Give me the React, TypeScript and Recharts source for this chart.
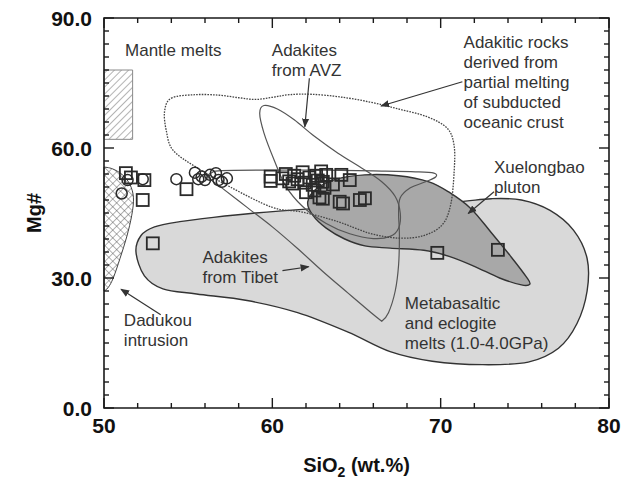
import React from 'react';
import { ScatterChart, Scatter, XAxis, YAxis } from 'recharts';

type P = { x: number; y: number; c?: boolean };

const xTickValues = [50, 52, 54, 56, 58, 60, 62, 64, 66, 68, 70, 72, 74, 76, 78, 80];
const xMajorTicks = [50, 60, 70, 80];
const yTickValues = [0, 3, 6, 9, 12, 15, 18, 21, 24, 27, 30, 33, 36, 39, 42, 45, 48, 51, 54, 57, 60, 63, 66, 69, 72, 75, 78, 81, 84, 87, 90];
const yMajorTicks = [0, 30, 60, 90];

const circles: P[] = [
  { x: 51.05, y: 49.5 }, { x: 51.4, y: 52.6 }, { x: 52.3, y: 52.8 }, { x: 54.3, y: 52.8 },
  { x: 55.4, y: 54.3 }, { x: 55.6, y: 52.8 }, { x: 55.8, y: 53.4 }, { x: 56.0, y: 52.6 },
  { x: 56.3, y: 53.8 }, { x: 56.65, y: 54.2 }, { x: 56.8, y: 52.6 }, { x: 57.0, y: 52.2 },
  { x: 57.3, y: 53.0 },
];

const squares: P[] = [
  { x: 51.3, y: 54.2 }, { x: 51.6, y: 53.2 }, { x: 52.4, y: 52.6 }, { x: 52.3, y: 48.0 },
  { x: 54.9, y: 50.5 }, { x: 52.9, y: 38.0 }, { x: 59.9, y: 53.4 }, { x: 59.9, y: 52.4 },
  { x: 60.6, y: 53.0 }, { x: 60.8, y: 54.0 }, { x: 61.0, y: 52.3 }, { x: 61.2, y: 51.8 },
  { x: 61.3, y: 53.6 }, { x: 61.5, y: 52.8 }, { x: 61.8, y: 54.4 }, { x: 61.9, y: 52.0 },
  { x: 62.0, y: 49.8 }, { x: 62.2, y: 53.2 }, { x: 62.4, y: 51.5 }, { x: 62.5, y: 50.2 },
  { x: 62.6, y: 53.6 }, { x: 62.7, y: 52.5 }, { x: 62.8, y: 48.6 }, { x: 62.9, y: 54.6 },
  { x: 63.0, y: 52.2 }, { x: 63.0, y: 48.3 }, { x: 63.1, y: 50.8 }, { x: 63.2, y: 53.8 },
  { x: 63.6, y: 51.6 }, { x: 64.1, y: 53.8 }, { x: 64.6, y: 52.6 }, { x: 64.0, y: 47.6 },
  { x: 64.2, y: 47.2 }, { x: 65.2, y: 48.0 }, { x: 65.5, y: 48.4 }, { x: 69.8, y: 35.8 },
  { x: 73.4, y: 36.5 },
];

const mantleMelts: P[] = [
  { x: 50, y: 62 }, { x: 51.7, y: 62 }, { x: 51.7, y: 78 }, { x: 50, y: 78 },
];

const dadukou: P[] = [
  { x: 50, y: 55.6, c: true }, { x: 50.5, y: 55.2 }, { x: 51.1, y: 53.8 }, { x: 51.55, y: 51.5 },
  { x: 51.75, y: 48.5 }, { x: 51.65, y: 44.5 }, { x: 51.35, y: 39.5 }, { x: 50.95, y: 34.5 },
  { x: 50.55, y: 30.0 }, { x: 50.25, y: 27.8 }, { x: 50, y: 27.0, c: true }, { x: 50, y: 41, c: true },
];

const metabasaltic: P[] = [
  { x: 51.9, y: 36.0 }, { x: 52.2, y: 39.8 }, { x: 53.0, y: 41.8 }, { x: 54.5, y: 43.0 },
  { x: 56.5, y: 44.0 }, { x: 59.0, y: 45.0 }, { x: 62.0, y: 45.9 }, { x: 65.0, y: 46.6 },
  { x: 68.0, y: 47.2 }, { x: 71.0, y: 47.6 }, { x: 73.0, y: 48.3 }, { x: 74.8, y: 48.0 },
  { x: 76.5, y: 45.6 }, { x: 77.9, y: 41.0 }, { x: 78.7, y: 34.5 }, { x: 78.7, y: 27.0 },
  { x: 78.1, y: 19.5 }, { x: 77.0, y: 13.8 }, { x: 75.2, y: 10.6 }, { x: 72.5, y: 10.0 },
  { x: 69.5, y: 10.8 }, { x: 67.0, y: 13.0 }, { x: 64.5, y: 17.5 }, { x: 61.5, y: 22.0 },
  { x: 58.5, y: 24.8 }, { x: 55.5, y: 26.3 }, { x: 53.5, y: 27.5 }, { x: 52.4, y: 30.5 },
];

const xuelongbao: P[] = [
  { x: 62.1, y: 47.5 }, { x: 62.6, y: 50.5 }, { x: 63.8, y: 52.8 }, { x: 65.5, y: 53.8 },
  { x: 67.5, y: 53.6 }, { x: 69.3, y: 52.2 }, { x: 70.5, y: 49.8 }, { x: 71.8, y: 46.0 },
  { x: 73.0, y: 40.5 }, { x: 74.2, y: 34.8 }, { x: 75.1, y: 30.2 }, { x: 75.3, y: 28.6 },
  { x: 74.8, y: 28.4 }, { x: 73.5, y: 30.0 }, { x: 72.0, y: 32.7 }, { x: 70.5, y: 35.0 },
  { x: 69.0, y: 36.4 }, { x: 67.0, y: 36.9 }, { x: 65.5, y: 37.4 }, { x: 64.3, y: 39.0 },
  { x: 63.2, y: 41.5 }, { x: 62.4, y: 44.5 },
];

const tibet: P[] = [
  { x: 57.0, y: 54.8 }, { x: 60.0, y: 54.9 }, { x: 63.0, y: 54.9 }, { x: 66.0, y: 54.7 },
  { x: 68.5, y: 54.5 }, { x: 69.6, y: 54.2 }, { x: 69.7, y: 53.3 }, { x: 69.1, y: 52.2 },
  { x: 68.2, y: 50.8 }, { x: 67.6, y: 48.5 }, { x: 67.5, y: 45.0 }, { x: 67.55, y: 40.0 },
  { x: 67.5, y: 33.0 }, { x: 67.3, y: 27.0 }, { x: 66.9, y: 22.0 }, { x: 66.5, y: 20.0, c: true },
  { x: 65.8, y: 22.2 }, { x: 64.5, y: 26.5 }, { x: 63.0, y: 31.5 }, { x: 61.5, y: 36.8 },
  { x: 60.0, y: 41.8 }, { x: 58.5, y: 46.3 }, { x: 57.0, y: 50.8 }, { x: 56.2, y: 53.2 },
  { x: 56.4, y: 54.3 },
];

const avz: P[] = [
  { x: 59.5, y: 69.8 }, { x: 60.3, y: 69.0 }, { x: 61.3, y: 66.5 }, { x: 62.5, y: 62.7 },
  { x: 63.9, y: 58.8 }, { x: 65.3, y: 55.4 }, { x: 66.5, y: 52.2 }, { x: 67.3, y: 48.8 },
  { x: 67.6, y: 45.0 }, { x: 67.5, y: 41.5 }, { x: 67.0, y: 39.6 }, { x: 66.0, y: 39.1 },
  { x: 64.6, y: 40.2 }, { x: 63.2, y: 42.6 }, { x: 61.8, y: 46.5 }, { x: 60.8, y: 51.2 },
  { x: 60.1, y: 57.3 }, { x: 59.5, y: 63.5 }, { x: 59.25, y: 68.0 },
];

const adakitic: P[] = [
  { x: 54.0, y: 71.5 }, { x: 55.4, y: 72.3 }, { x: 56.8, y: 72.2 }, { x: 58.0, y: 71.6 },
  { x: 59.0, y: 71.2 }, { x: 60.0, y: 71.7 }, { x: 61.0, y: 72.3 }, { x: 62.3, y: 72.4 },
  { x: 64.0, y: 71.8 }, { x: 65.8, y: 70.6 }, { x: 67.5, y: 69.0 }, { x: 69.2, y: 67.2 },
  { x: 70.4, y: 64.5 }, { x: 70.8, y: 60.5 }, { x: 70.8, y: 54.5 }, { x: 70.6, y: 47.0 },
  { x: 70.1, y: 42.3 }, { x: 69.0, y: 39.8 }, { x: 67.5, y: 39.2 }, { x: 65.8, y: 40.3 },
  { x: 63.9, y: 43.0 }, { x: 61.8, y: 45.2 }, { x: 60.0, y: 46.3 }, { x: 57.5, y: 51.0 },
  { x: 55.5, y: 55.5 }, { x: 54.1, y: 59.5 }, { x: 53.7, y: 64.0 }, { x: 53.6, y: 68.5 },
];

const arrowAdakitic: P[] = [{ x: 71.29, y: 75.3 }, { x: 66.46, y: 69.7 }];
const arrowAvz: P[] = [{ x: 62.2, y: 76.1 }, { x: 61.93, y: 64.9 }];
const arrowXuelongbao: P[] = [{ x: 73.17, y: 49.9 }, { x: 71.64, y: 44.9 }];
const arrowTibet: P[] = [{ x: 60.6, y: 31.7 }, { x: 62.16, y: 32.6 }];
const arrowDadukou: P[] = [{ x: 53.37, y: 21.5 }, { x: 51.01, y: 27.4 }];

const annotations = [
  { x: 51.25, y: 82.6, lines: ['Mantle melts'] },
  { x: 59.97, y: 82.6, lines: ['Adakites', 'from AVZ'] },
  { x: 71.36, y: 84.5, lines: ['Adakitic rocks', 'derived from', 'partial melting', 'of subducted', 'oceanic crust'] },
  { x: 73.17, y: 55.7, lines: ['Xuelongbao', 'pluton'] },
  { x: 55.85, y: 34.9, lines: ['Adakites', 'from Tibet'] },
  { x: 67.87, y: 24.2, lines: ['Metabasaltic', 'and eclogite', 'melts (1.0-4.0GPa)'] },
  { x: 51.18, y: 20.3, lines: ['Dadukou', 'intrusion'] },
];

// axis frame corners and tick marks, in data space
const frame: P[] = [{ x: 50, y: 0 }, { x: 80, y: 0 }, { x: 80, y: 90 }, { x: 50, y: 90 }];
const bottomTicks = xTickValues.map((v) => ({ x: v, y: 0 }));
const topTicks = xTickValues.map((v) => ({ x: v, y: 90 }));
const leftTicks = yTickValues.map((v) => ({ x: 50, y: v }));
const rightTicks = yTickValues.map((v) => ({ x: 80, y: v }));

const FONT = '"Liberation Sans", Arial, Helvetica, sans-serif';
const AXIS = '#1a1a1a';

function buildPath(pts: { x: number; y: number }[], src: P[], smooth: boolean, closed: boolean) {
  const n = pts.length;
  if (!n) return '';
  if (!smooth) return 'M' + pts.map((p) => `${p.x},${p.y}`).join('L') + (closed ? 'Z' : '');
  const get = (i: number) => (closed ? pts[(i + n) % n] : pts[Math.min(n - 1, Math.max(0, i))]);
  const isC = (i: number) => !!(src[(i + n) % n] && src[(i + n) % n].c);
  let d = `M${pts[0].x},${pts[0].y}`;
  const segs = closed ? n : n - 1;
  const k = 1 / 6;
  for (let i = 0; i < segs; i++) {
    const p0 = get(i - 1), p1 = get(i), p2 = get(i + 1), p3 = get(i + 2);
    const c1 = isC(i) ? p1 : { x: p1.x + (p2.x - p0.x) * k, y: p1.y + (p2.y - p0.y) * k };
    const c2 = isC(i + 1) ? p2 : { x: p2.x - (p3.x - p1.x) * k, y: p2.y - (p3.y - p1.y) * k };
    d += `C${c1.x},${c1.y} ${c2.x},${c2.y} ${p2.x},${p2.y}`;
  }
  return d + (closed ? 'Z' : '');
}

const noShape = () => <g />;

const region = (src: P[], style: React.SVGProps<SVGPathElement>, smooth = true) => (props: any) => (
  <path d={buildPath(props.points || [], src, smooth, true)} {...style} />
);

const mantleLine = (props: any) => (
  <g>
    <defs>
      <pattern id="hatchDiag" patternUnits="userSpaceOnUse" width="5" height="5" patternTransform="rotate(45)">
        <line x1="0" y1="0" x2="0" y2="5" stroke="#6a6a6a" strokeWidth="1" />
      </pattern>
      <pattern id="hatchCross" patternUnits="userSpaceOnUse" width="5.5" height="5.5" patternTransform="rotate(45)">
        <line x1="0" y1="0" x2="0" y2="5.5" stroke="#555" strokeWidth="0.9" />
        <line x1="0" y1="0" x2="5.5" y2="0" stroke="#555" strokeWidth="0.9" />
      </pattern>
      <marker id="arrowHead" viewBox="0 0 10 10" refX="9" refY="5" markerWidth="9" markerHeight="9" markerUnits="userSpaceOnUse" orient="auto">
        <path d="M0,1 L10,5 L0,9 Z" fill="#333" />
      </marker>
    </defs>
    <path d={buildPath(props.points || [], mantleMelts, false, true)} fill="url(#hatchDiag)" stroke="#8a8a8a" strokeWidth={1} />
  </g>
);

const arrowLine = (props: any) => {
  const pts = props.points || [];
  if (pts.length < 2) return <g />;
  return (
    <line x1={pts[0].x} y1={pts[0].y} x2={pts[1].x} y2={pts[1].y} stroke="#333" strokeWidth={1.2} markerEnd="url(#arrowHead)" />
  );
};

const frameLine = (props: any) => (
  <path d={buildPath(props.points || [], frame, false, true)} fill="none" stroke={AXIS} strokeWidth={1.6} />
);

const CircleMark = (p: any) => <circle cx={p.cx} cy={p.cy} r={5.5} fill="none" stroke="#2a2a2a" strokeWidth={1.5} />;
const SquareMark = (p: any) => <rect x={p.cx - 6} y={p.cy - 6} width={12} height={12} fill="none" stroke="#2a2a2a" strokeWidth={1.8} />;

const val = (p: any, k: 'x' | 'y') => (p.payload ? p.payload[k] : p[k]);

const BottomTickMark = (p: any) => {
  const major = xMajorTicks.includes(val(p, 'x'));
  return <line x1={p.cx} x2={p.cx} y1={p.cy} y2={p.cy - (major ? 10 : 5)} stroke={AXIS} strokeWidth={1.4} />;
};
const TopTickMark = (p: any) => {
  const major = xMajorTicks.includes(val(p, 'x'));
  return <line x1={p.cx} x2={p.cx} y1={p.cy} y2={p.cy + (major ? 10 : 5)} stroke={AXIS} strokeWidth={1.4} />;
};
const LeftTickMark = (p: any) => {
  const major = yMajorTicks.includes(val(p, 'y'));
  return <line x1={p.cx} x2={p.cx + (major ? 10 : 5)} y1={p.cy} y2={p.cy} stroke={AXIS} strokeWidth={1.4} />;
};
const RightTickMark = (p: any) => {
  const major = yMajorTicks.includes(val(p, 'y'));
  return <line x1={p.cx} x2={p.cx - (major ? 10 : 5)} y1={p.cy} y2={p.cy} stroke={AXIS} strokeWidth={1.4} />;
};

const AnnotationMark = (p: any) => {
  const lines: string[] = (p.payload && p.payload.lines) || p.lines || [];
  return (
    <text x={p.cx} y={p.cy} fontFamily={FONT} fontSize={17} fill="#333" dominantBaseline="central">
      {lines.map((l, i) => (
        <tspan key={i} x={p.cx} dy={i === 0 ? 0 : 20}>{l}</tspan>
      ))}
    </text>
  );
};

const BottomTick = (p: any) => {
  const v = p.payload.value;
  if (!xMajorTicks.includes(v)) return <g />;
  return (
    <text x={p.x} y={p.y + 25} textAnchor="middle" fontFamily={FONT} fontWeight="bold" fontSize={21} fill="#111">{v}</text>
  );
};

const LeftTick = (p: any) => {
  const v = p.payload.value;
  if (!yMajorTicks.includes(v)) return <g />;
  return (
    <text x={p.x - 12} y={p.y} dy="0.36em" textAnchor="end" fontFamily={FONT} fontWeight="bold" fontSize={21} fill="#111">{v.toFixed(1)}</text>
  );
};

const XTitle = (props: any) => {
  const vb = props.viewBox || { x: 104, y: 408, width: 505, height: 71 };
  const cx = vb.x + vb.width / 2;
  const y = vb.y + 64;
  return (
    <text x={cx} y={y} textAnchor="middle" fontFamily={FONT} fontWeight="bold" fontSize={20} fill="#111">
      <tspan>SiO</tspan>
      <tspan fontSize={14} dy={5}>2</tspan>
      <tspan dy={-5}> (wt.%)</tspan>
    </text>
  );
};

const YTitle = (props: any) => {
  const vb = props.viewBox || { x: 0, y: 18, width: 104, height: 390 };
  const cx = 34;
  const cy = vb.y + vb.height / 2;
  return (
    <text x={cx} y={cy} textAnchor="middle" dominantBaseline="central" transform={`rotate(-90, ${cx}, ${cy})`} fontFamily={FONT} fontWeight="bold" fontSize={20} fill="#111">
      Mg#
    </text>
  );
};

export default function App() {
  return (
    <div style={{ position: 'fixed', left: 0, top: 0, width: 623, height: 479, background: '#fff' }}>
      <ScatterChart width={623} height={479} margin={{ top: 18, right: 14, bottom: 0, left: 0 }}>
        <XAxis xAxisId="b" orientation="bottom" type="number" dataKey="x" domain={[50, 80]} ticks={xTickValues} interval={0}
          height={71} tickSize={0} tickMargin={0} tickLine={false} axisLine={false} tick={<BottomTick />}
          label={XTitle} />
        <YAxis yAxisId="l" orientation="left" type="number" dataKey="y" domain={[0, 90]} ticks={yTickValues} interval={0}
          width={104} tickSize={0} tickMargin={0} tickLine={false} axisLine={false} tick={<LeftTick />}
          label={YTitle} />

        <Scatter xAxisId="b" yAxisId="l" data={mantleMelts} line={mantleLine} lineType="joint" shape={noShape} isAnimationActive={false} />
        <Scatter xAxisId="b" yAxisId="l" data={metabasaltic} lineType="joint" shape={noShape} isAnimationActive={false}
          line={region(metabasaltic, { fill: '#d9d9d9', stroke: '#333', strokeWidth: 1.4 })} />
        <Scatter xAxisId="b" yAxisId="l" data={xuelongbao} lineType="joint" shape={noShape} isAnimationActive={false}
          line={region(xuelongbao, { fill: '#a8a8a8', stroke: '#333', strokeWidth: 1.4 })} />
        <Scatter xAxisId="b" yAxisId="l" data={tibet} lineType="joint" shape={noShape} isAnimationActive={false}
          line={region(tibet, { fill: 'none', stroke: '#555', strokeWidth: 1.2 })} />
        <Scatter xAxisId="b" yAxisId="l" data={avz} lineType="joint" shape={noShape} isAnimationActive={false}
          line={region(avz, { fill: 'none', stroke: '#555', strokeWidth: 1.2 })} />
        <Scatter xAxisId="b" yAxisId="l" data={adakitic} lineType="joint" shape={noShape} isAnimationActive={false}
          line={region(adakitic, { fill: 'none', stroke: '#444', strokeWidth: 1.3, strokeDasharray: '1.6 1.2' })} />
        <Scatter xAxisId="b" yAxisId="l" data={dadukou} lineType="joint" shape={noShape} isAnimationActive={false}
          line={region(dadukou, { fill: 'url(#hatchCross)', stroke: '#444', strokeWidth: 1 })} />

        <Scatter xAxisId="b" yAxisId="l" data={circles} shape={CircleMark} isAnimationActive={false} />
        <Scatter xAxisId="b" yAxisId="l" data={squares} shape={SquareMark} isAnimationActive={false} />

        <Scatter xAxisId="b" yAxisId="l" data={arrowAdakitic} line={arrowLine} lineType="joint" shape={noShape} isAnimationActive={false} />
        <Scatter xAxisId="b" yAxisId="l" data={arrowAvz} line={arrowLine} lineType="joint" shape={noShape} isAnimationActive={false} />
        <Scatter xAxisId="b" yAxisId="l" data={arrowXuelongbao} line={arrowLine} lineType="joint" shape={noShape} isAnimationActive={false} />
        <Scatter xAxisId="b" yAxisId="l" data={arrowTibet} line={arrowLine} lineType="joint" shape={noShape} isAnimationActive={false} />
        <Scatter xAxisId="b" yAxisId="l" data={arrowDadukou} line={arrowLine} lineType="joint" shape={noShape} isAnimationActive={false} />

        <Scatter xAxisId="b" yAxisId="l" data={annotations} shape={AnnotationMark} isAnimationActive={false} />

        <Scatter xAxisId="b" yAxisId="l" data={bottomTicks} shape={BottomTickMark} isAnimationActive={false} />
        <Scatter xAxisId="b" yAxisId="l" data={topTicks} shape={TopTickMark} isAnimationActive={false} />
        <Scatter xAxisId="b" yAxisId="l" data={leftTicks} shape={LeftTickMark} isAnimationActive={false} />
        <Scatter xAxisId="b" yAxisId="l" data={rightTicks} shape={RightTickMark} isAnimationActive={false} />
        <Scatter xAxisId="b" yAxisId="l" data={frame} line={frameLine} lineType="joint" shape={noShape} isAnimationActive={false} />
      </ScatterChart>
    </div>
  );
}
